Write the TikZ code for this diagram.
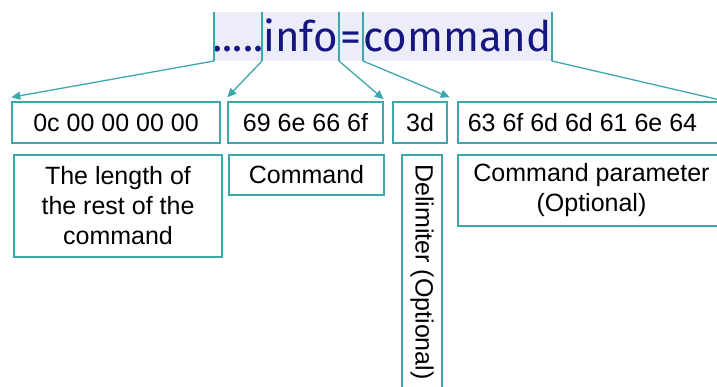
\documentclass[tikz,border=0pt]{standalone}
\usepackage{fontspec}
\setmainfont{Liberation Sans}
\newfontfamily\topfont{Fira Sans}
\usetikzlibrary{arrows.meta}
\definecolor{teal1}{RGB}{60,168,172}
\definecolor{navy1}{RGB}{22,22,128}
\definecolor{hl}{RGB}{237,237,249}
\begin{document}
\begin{tikzpicture}[x=1pt,y=-1pt,
  box/.style={draw=teal1, line width=1.4pt, inner sep=0pt, font=\fontsize{25}{30}\selectfont, align=center},
  arr/.style={draw=teal1, line width=1.3pt, -{Triangle[length=9pt,width=8pt]}},
  bar/.style={draw=teal1, line width=1.3pt},
  seg/.style={font=\topfont\fontsize{42}{42}\selectfont, text=navy1, inner sep=0pt, anchor=base}]
\useasboundingbox (0,0) rectangle (717,387);
\clip (0,0) rectangle (717,387);
% highlighted source text
\fill[hl] (213,12) rectangle (552,61);
\node[seg] (dots) at (238,52) {.....};
\node[seg] (info) at (300.5,52) {info};
\node[seg] (eq) at (351,52) {=};
\node[seg] (cmd) at (457.5,52) {command};
% separator bars
\coordinate (t1) at (214,12); \coordinate (b1) at (214,61);
\coordinate (t2) at (262,12); \coordinate (b2) at (262,61);
\coordinate (t3) at (339,12); \coordinate (b3) at (339,61);
\coordinate (t4) at (363,12); \coordinate (b4) at (363,61);
\coordinate (t5) at (552,12); \coordinate (b5) at (552,61);
\foreach \i in {1,...,5} {\draw[bar] (t\i) -- (b\i);}
% first row of boxes
\node[box, minimum width=208pt, minimum height=41pt] (A) at (116,122.5) {0c 00 00 00 00};
\node[box, minimum width=155pt, minimum height=41pt] (B) at (305.5,122.5) {69 6e 66 6f};
\node[box, minimum width=54pt, minimum height=41pt] (C) at (420,122.5) {3d};
\node[box, minimum width=267pt, minimum height=41pt] (D) at (591.5,122.5) {63 6f 6d 6d 61 6e 64\hspace{18pt}};
% second row of boxes
\node[box, minimum width=208pt, minimum height=102pt] (E) at (118,206) {The length of\\the rest of the\\command};
\node[box, minimum width=155pt, minimum height=40pt] (F) at (306.5,175) {Command};
\node[box, minimum width=40pt, minimum height=234pt] (G) at (422,272) {\rotatebox{-90}{Delimiter (Optional)}};
\node[box, minimum width=267pt, minimum height=71pt] (H) at (591.5,190.5) {Command parameter\\(Optional)};
% connectors
\draw[arr] (b1) -- ([yshift=4pt]A.north west);
\draw[arr] (b2) -- ([yshift=4pt]B.north west);
\draw[arr] (b3) -- ([yshift=2pt]B.north east);
\draw[arr] (b4) -- ([yshift=4pt,xshift=2pt]C.north east);
\draw[bar] (b5) -- (D.north east);
\end{tikzpicture}
\end{document}
